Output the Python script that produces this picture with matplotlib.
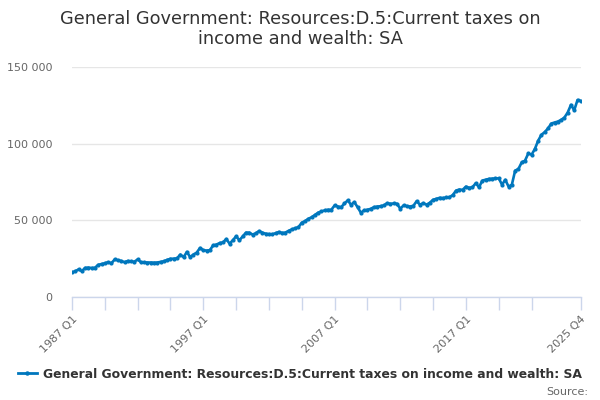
import matplotlib
matplotlib.use('Agg')
import matplotlib.pyplot as plt
from matplotlib.lines import Line2D
from matplotlib.ticker import FuncFormatter

title = 'General Government: Resources:D.5:Current taxes on\nincome and wealth: SA'
series_name = 'General Government: Resources:D.5:Current taxes on income and wealth: SA'

# quarterly values, 1987 Q1 .. 2025 Q4 (£m)
values = [
    16000, 16800, 18000, 16900,   # 1987
    19000, 19200, 18900, 19100,   # 1988
    21000, 21500, 22000, 22700,   # 1989
    22000, 24500, 24000, 23500,   # 1990
    22700, 23500, 23200, 23000,   # 1991
    24500, 22700, 22600, 22500,   # 1992
    22500, 22400, 22500, 22900,   # 1993
    23300, 24200, 24900, 25000,   # 1994
    25200, 27700, 26000, 29400,   # 1995
    26000, 27700, 29000, 32000,   # 1996
    30500, 30300, 30500, 33700,   # 1997
    34200, 35200, 35600, 37800,   # 1998
    34800, 37000, 39600, 37000,   # 1999
    39500, 42000, 42000, 40700,   # 2000
    41600, 43000, 42000, 41300,   # 2001
    41000, 40900, 41600, 42400,   # 2002
    41800, 42000, 43200, 44100,   # 2003
    44800, 45600, 48500, 49500,   # 2004
    51000, 52000, 53500, 55000,   # 2005
    55800, 56500, 56900, 56900,   # 2006
    59700, 59000, 58600, 61000,   # 2007
    63000, 60200, 61900, 58600,   # 2008
    55000, 56500, 56900, 57500,   # 2009
    58600, 59000, 59200, 59700,   # 2010
    61200, 60800, 61000, 60800,   # 2011
    57600, 59700, 59300, 59000,   # 2012
    59500, 62500, 60200, 61200,   # 2013
    60200, 61500, 63400, 64000,   # 2014
    64700, 64500, 64900, 65100,   # 2015
    66500, 69400, 70100, 69900,   # 2016
    72000, 71200, 71600, 74200,   # 2017
    71600, 75900, 76500, 77000,   # 2018
    77200, 77300, 77400, 73300,   # 2019
    76400, 72000, 73300, 82400,   # 2020
    83500, 87800, 88900, 93600,   # 2021
    92800, 96500, 101900, 105800,  # 2022
    107500, 109900, 113100, 113800,  # 2023
    114400, 115500, 117000, 120300,  # 2024
    125300, 121800, 128500, 127900,  # 2025
]
quarters = ['%d Q%d' % (1987 + i // 4, i % 4 + 1) for i in range(len(values))]
label_quarters = ['1987 Q1', '1997 Q1', '2007 Q1', '2017 Q1', '2025 Q4']

blue = '#0077bd'
grey_txt = '#666666'
axis_col = '#ccd6eb'

fig = plt.figure(figsize=(6, 4), dpi=100)
ax = fig.add_axes([0.12, 0.2575, 0.848, 0.575])

x = list(range(len(values)))
ax.plot(x, values, color=blue, linewidth=1.9, marker='o', markersize=2.0, zorder=3)

ax.set_xlim(0, len(values) - 1)
ax.set_ylim(0, 150000)
ax.set_yticks([0, 50000, 100000, 150000])
ax.yaxis.set_major_formatter(FuncFormatter(lambda v, p: '{:,}'.format(int(v)).replace(',', ' ')))
ax.grid(axis='y', color='#e6e6e6', linewidth=1)
ax.set_axisbelow(True)

tick_pos = list(range(0, 141, 10)) + [len(values) - 1]
ax.set_xticks(tick_pos)
ax.set_xticklabels([quarters[t] if quarters[t] in label_quarters else '' for t in tick_pos],
                   rotation=45, ha='right', rotation_mode='anchor', fontsize=8, color=grey_txt)
ax.tick_params(axis='x', length=9, color=axis_col, width=1, pad=3)
ax.tick_params(axis='y', length=0, labelsize=8, labelcolor=grey_txt, pad=14)

for s in ['top', 'right', 'left']:
    ax.spines[s].set_visible(False)
ax.spines['bottom'].set_color(axis_col)
ax.spines['bottom'].set_linewidth(1)

fig.suptitle(title, y=0.975, fontsize=12.8, color='#333333', linespacing=1.15)

handle = Line2D([], [], color=blue, linewidth=2, marker='o', markersize=2.2)
fig.legend([handle], [series_name], loc='center', bbox_to_anchor=(0.5, 0.065),
           frameon=False, handlelength=1.6, handletextpad=0.5,
           prop={'weight': 'bold', 'size': 8.9}, labelcolor='#333333')
fig.text(0.98, 0.02, 'Source:', ha='right', va='center', fontsize=8, color=grey_txt)

plt.savefig('out.png', dpi=100)
